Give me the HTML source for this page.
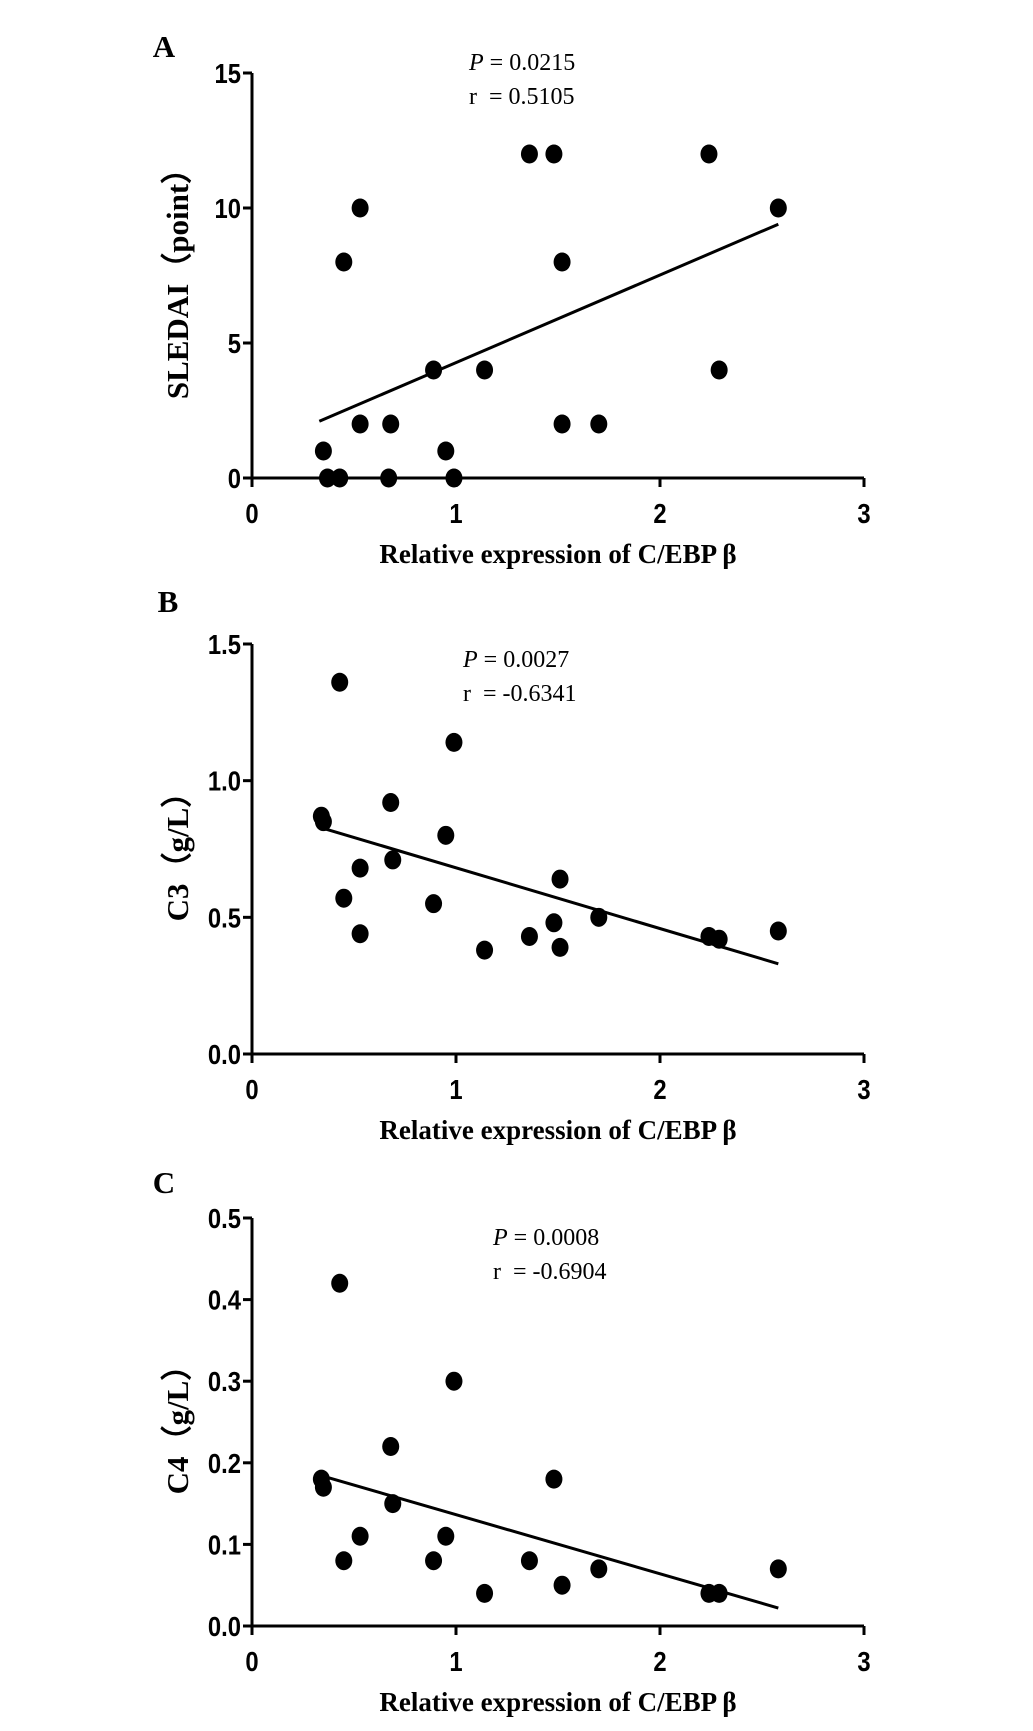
<!DOCTYPE html>
<html><head><meta charset="utf-8"><style>
html,body{margin:0;padding:0;background:#fff;}
svg{display:block;}
</style></head><body>
<svg id="chart" width="1033" height="1731" viewBox="0 0 1033 1731" xmlns="http://www.w3.org/2000/svg"></svg>
<script>
const xTicks = [0, 1, 2, 3];
const xs = [0.35,0.37,0.43,0.45,0.53,0.53,0.68,0.67,0.89,0.95,0.99,1.14,1.36,1.48,1.52,1.52,1.70,2.24,2.29,2.58];
const aY = [1,0,0,8,10,2,2,0,4,1,0,4,12,12,8,2,2,12,4,10];
const aTicks = [0,5,10,15];
const aTickLabels = ["0","5","10","15"];
const aFit = [[0.33,2.1],[2.58,9.4]];
const bX = [0.34,0.35,0.43,0.45,0.53,0.53,0.68,0.69,0.89,0.95,0.99,1.14,1.36,1.48,1.51,1.51,1.70,2.24,2.29,2.58];
const bY = [0.87,0.85,1.36,0.57,0.68,0.44,0.92,0.71,0.55,0.80,1.14,0.38,0.43,0.48,0.64,0.39,0.50,0.43,0.42,0.45];
const bTicks = [0,0.5,1.0,1.5];
const bTickLabels = ["0.0","0.5","1.0","1.5"];
const bFit = [[0.33,0.83],[2.58,0.33]];
const cX = [0.34,0.35,0.43,0.45,0.53,0.68,0.69,0.89,0.95,0.99,1.14,1.36,1.48,1.52,1.70,2.24,2.29,2.58];
const cY = [0.18,0.17,0.42,0.08,0.11,0.22,0.15,0.08,0.11,0.30,0.04,0.08,0.18,0.05,0.07,0.04,0.04,0.07];
const cTicks = [0,0.1,0.2,0.3,0.4,0.5];
const cTickLabels = ["0.0","0.1","0.2","0.3","0.4","0.5"];
const cFit = [[0.33,0.185],[2.58,0.022]];

const NS = "http://www.w3.org/2000/svg";
const svg = document.getElementById('chart');
function mk(tag, attrs, parent, text){
  const e = document.createElementNS(NS, tag);
  for (const k in attrs) e.setAttribute(k, attrs[k]);
  if (text !== undefined) e.textContent = text;
  (parent||svg).appendChild(e);
  return e;
}
const X0 = 252, X1 = 864, XMAX = 3;
function sx(v){ return X0 + v/XMAX*(X1-X0); }

function panel(id, letter, letterPos, yTop, yBot, yMax, ticks, tickLabels, px, py, fit, yTitle, yTitleCy, ann, xLabelY){
  const g = mk('g', {});
  
  
  const sy = v => yBot - v/yMax*(yBot-yTop);
  const L = mk('text', {x:letterPos[0], y:letterPos[1], 'font-family':'Liberation Serif, serif', 'font-weight':'bold', 'font-size':31, 'text-anchor':'middle'}, g, letter);
  
  
  const ya = mk('line', {x1:X0, y1:yTop, x2:X0, y2:yBot, stroke:'#000', 'stroke-width':3}, g);
  
  
  const xa = mk('line', {x1:X0, y1:yBot, x2:X1, y2:yBot, stroke:'#000', 'stroke-width':3}, g);
  
  
  ticks.forEach((t,i)=>{
    const y = sy(t);
    const tl = mk('line', {x1:X0-9, y1:y, x2:X0, y2:y, stroke:'#000', 'stroke-width':3}, g);
    
    
    const tx = mk('text', {x:0, y:0, transform:'translate('+(X0-11)+','+(y+10)+') scale(0.85,1)', 'font-family':'Liberation Sans, sans-serif', 'font-weight':'bold', 'font-size':28, 'text-anchor':'end'}, g, tickLabels[i]);
    
    
  });
  xTicks.forEach(t=>{
    const x = sx(t);
    const tl = mk('line', {x1:x, y1:yBot, x2:x, y2:yBot+9, stroke:'#000', 'stroke-width':3}, g);
    
    
    const tx = mk('text', {x:0, y:0, transform:'translate('+x+','+(yBot+45)+') scale(0.85,1)', 'font-family':'Liberation Sans, sans-serif', 'font-weight':'bold', 'font-size':28, 'text-anchor':'middle'}, g, String(t));
    
    
  });
  const xl = mk('text', {x:(X0+X1)/2, y:xLabelY, 'font-family':'Liberation Serif, serif', 'font-weight':'bold', 'font-size':27, 'text-anchor':'middle'}, g, 'Relative expression of C/EBP β');
  
  
  const yt = mk('text', {x:0, y:0, transform:'translate(188,'+yTitleCy+') rotate(-90)', 'font-family':'Liberation Serif, serif', 'font-weight':'bold', 'font-size':31, 'text-anchor':'middle'}, g, yTitle);
  
  
  const a1 = mk('text', {x:ann[0], y:ann[1], 'font-family':'Liberation Serif, serif', 'font-size':24}, g);
  
  
  mk('tspan', {'font-style':'italic'}, a1, 'P');
  mk('tspan', {}, a1, ' = ' + ann[2]);
  const a2 = mk('text', {x:ann[0], y:ann[1]+34, 'font-family':'Liberation Serif, serif', 'font-size':24, 'xml:space':'preserve'}, g, 'r\u00a0\u00a0= ' + ann[3]);
  
  
  const fl = mk('line', {x1:sx(fit[0][0]), y1:sy(fit[0][1]), x2:sx(fit[1][0]), y2:sy(fit[1][1]), stroke:'#000', 'stroke-width':3}, g);
  
  
  px.forEach((v,i)=>{
    const c = mk('ellipse', {cx:sx(v), cy:sy(py[i]), rx:8.5, ry:9.5, fill:'#000'}, g);
    
    
  });
}
panel('a','A',[164,57],73,478,15,aTicks,aTickLabels,xs,aY,aFit,'SLEDAI（point）',276,[469,70,'0.0215','0.5105'],563);
panel('b','B',[168,612],644,1054,1.5,bTicks,bTickLabels,bX,bY,bFit,'C3（g/L）',849,[463,667,'0.0027','-0.6341'],1139);
panel('c','C',[164,1193],1218,1626,0.5,cTicks,cTickLabels,cX,cY,cFit,'C4（g/L）',1422,[493,1245,'0.0008','-0.6904'],1711);
</script>
</body></html>
